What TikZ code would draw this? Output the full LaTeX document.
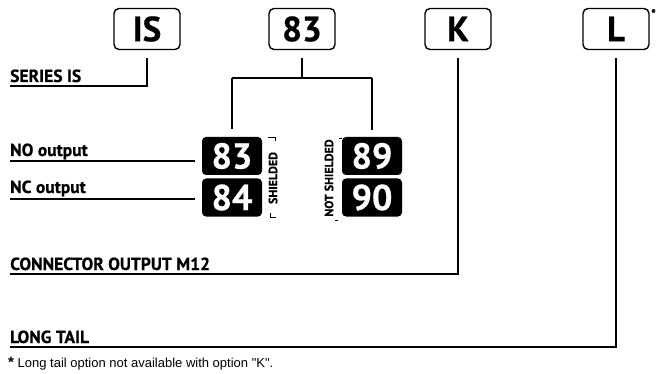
\documentclass[tikz,border=0pt]{standalone}
\usepackage{fontspec}
\setmainfont{PT Sans}
\newfontfamily\heavy{PT Sans Bold}[FakeBold=0.6]
\newfontfamily\helv{Liberation Sans}
\begin{document}
\begin{tikzpicture}[x=1pt,y=-1pt,
  conn/.style={line width=1.2pt,black},
  topbox/.style={draw,line width=1.4pt,rounded corners=5pt,fill=white,minimum width=66pt,minimum height=41pt,inner sep=0pt,font=\heavy\fontsize{35}{35}\selectfont},
  blackbox/.style={fill=black,text=white,rounded corners=4pt,minimum width=60pt,minimum height=38pt,inner sep=0pt,font=\heavy\fontsize{36}{36}\selectfont},
  lbl/.style={anchor=base west,inner sep=0pt,font=\heavy\fontsize{17.5}{17.5}\selectfont},
  vlbl/.style={rotate=90,inner sep=0pt,font=\heavy\fontsize{12}{12}\selectfont}]
\useasboundingbox (0,0) rectangle (658,374);
% top code boxes
\node[topbox] (is) at (147,29) {IS};
\node[topbox] (n83) at (302,29) {83};
\node[topbox] (k) at (458,29) {K};
\node[topbox] (l) at (616,29) {L};
\node[anchor=north west,inner sep=0pt,font=\heavy\fontsize{12}{12}\selectfont] (ast) at (651,9) {*};
% labels
\node[lbl] (series) at (10,82) {SERIES IS};
\node[lbl] (no) at (10,156) {NO output};
\node[lbl] (nc) at (10,193) {NC output};
\node[lbl] (conn) at (10,270) {CONNECTOR OUTPUT M12};
\node[lbl] (long) at (10,343) {LONG TAIL};
\coordinate (sisend) at (10,86);
\coordinate (noend) at (10,161);
\coordinate (ncend) at (10,199);
\coordinate (kend) at (10,274);
\coordinate (lend) at (10,347);
% black code boxes
\node[blackbox] (b83) at (232,156) {83};
\node[blackbox] (b84) at (232,197.5) {84};
\node[blackbox] (b89) at (372,156) {89};
\node[blackbox] (b90) at (372,197.5) {90};
% shielded labels
\node[vlbl] (sh) at (273,178) {SHIELDED};
\node[vlbl] (nsh) at (329,178) {NOT SHIELDED};
\draw[line width=0.8pt] (268,137) -- (275,137) -- (275,141);
\draw[line width=0.8pt] (270,213) -- (270,217) -- (276,217);
\draw[line width=0.8pt] (339,138) -- (342,138);
\draw[line width=0.8pt] (335,220) -- (338,220);
% connectors
\draw[conn,shorten <=8pt] (is.south) |- (sisend);
\coordinate (bl) at (232,78);
\coordinate (br) at (372,78);
\draw[conn,shorten <=8pt] (n83.south) -- (n83.south |- bl);
\draw[conn] (bl) -- (br);
\draw[conn,shorten >=8pt] (bl) -- (b83.north);
\draw[conn,shorten >=7pt] (br) -- (b89.north);
\draw[conn] (noend) -- (195,161);
\draw[conn] (ncend) -- (195,199);
\draw[conn,shorten <=8pt] (k.south) |- (kend);
\draw[conn,shorten <=8pt] (l.south) |- (lend);
% footnote
\node[anchor=base west,inner sep=0pt,font=\helv\fontsize{13}{13}\selectfont] (foot) at (8,367) {\textbf{\fontsize{15}{15}\selectfont *} Long tail option not available with option "K".};
\end{tikzpicture}
\end{document}
